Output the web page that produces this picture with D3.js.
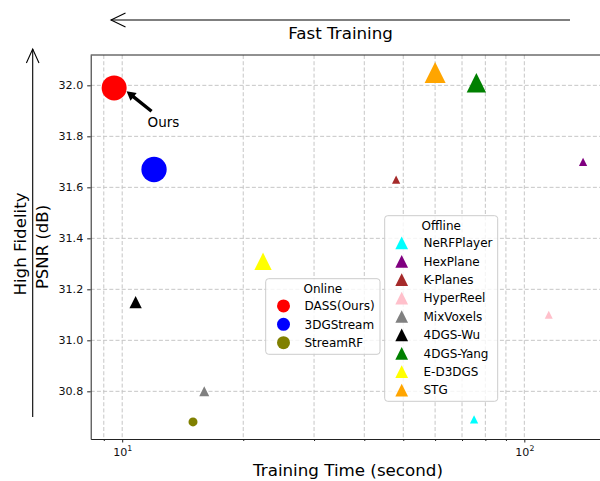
<!DOCTYPE html>
<html>
<head>
<meta charset="utf-8">
<script src="https://cdn.jsdelivr.net/npm/d3@7"></script>
<style>
  body { margin: 0; background: #fff; }
  svg { display: block; font-family: "DejaVu Sans", sans-serif; }
</style>
</head>
<body>
<script>
// Online methods (circles)
const onlineNames = ["DASS(Ours)", "3DGStream", "StreamRF"];
const onlineTime = [9.55, 12, 15];
const onlinePsnr = [31.99, 31.67, 30.68];
const onlineSize = [625, 640, 81];
const onlineColors = ["red", "blue", "olive"];

// Offline methods (triangles)
const offlineNames = ["NeRFPlayer", "HexPlane", "K-Planes", "HyperReel", "MixVoxels",
                      "4DGS-Wu", "4DGS-Yang", "E-D3DGS", "STG"];
const offlineTime = [75, 140, 48, 115, 16, 10.8, 76, 22.4, 60];
const offlinePsnr = [30.69, 31.70, 31.63, 31.10, 30.80, 31.15, 32.01, 31.31, 32.05];
const offlineSize = [69, 69, 69, 64, 100, 152, 376, 300, 441];
const offlineColors = ["cyan", "purple", "brown", "pink", "gray", "black", "green", "yellow", "orange"];

const yTicks = [30.8, 31.0, 31.2, 31.4, 31.6, 31.8, 32.0];
const xMajorTicks = [10, 100];

const width = 600, height = 481;
const mLeft = 90.7, mRight = 605.3, mTop = 55, mBottom = 439;

const svg = d3.select("body").append("svg")
    .attr("width", width)
    .attr("height", height);

const x = d3.scaleLog().domain([8.35, 159]).range([mLeft, mRight]);
const y = d3.scaleLinear().domain([30.613, 32.119]).range([mBottom, mTop]);
const sz = d3.scaleSqrt().domain([0, 625]).range([0, 25]);

function tri(cx, cy, h) {
    return `M${cx},${cy - h / 2}L${cx + h / 2},${cy + h / 2}L${cx - h / 2},${cy + h / 2}Z`;
}

// grid
const grid = svg.append("g")
    .attr("stroke", "#c6c6c6")
    .attr("stroke-width", 1)
    .attr("stroke-dasharray", "4,2.2");
grid.selectAll(".gx").data(x.ticks()).join("line")
    .attr("x1", d => x(d)).attr("x2", d => x(d))
    .attr("y1", mTop).attr("y2", mBottom);
grid.selectAll(".gy").data(yTicks).join("line")
    .attr("x1", mLeft).attr("x2", mRight)
    .attr("y1", d => y(d)).attr("y2", d => y(d));

// top spine
svg.append("line").attr("x1", mLeft).attr("x2", mRight).attr("y1", mTop).attr("y2", mTop)
    .attr("stroke", "#222").attr("stroke-width", 1);

// y axis
svg.append("g")
    .attr("transform", `translate(${mLeft},0)`)
    .call(d3.axisLeft(y).tickValues(yTicks).tickFormat(d3.format(".1f"))
        .tickSize(3.5).tickPadding(4).tickSizeOuter(0));

// x axis (major + minor)
const xMinor = svg.append("g")
    .attr("transform", `translate(0,${mBottom})`)
    .call(d3.axisBottom(x).tickValues(x.ticks().filter(d => !xMajorTicks.includes(d)))
        .tickFormat("").tickSize(2).tickSizeOuter(0));
xMinor.select(".domain").remove();

const xAxis = svg.append("g")
    .attr("transform", `translate(0,${mBottom})`)
    .call(d3.axisBottom(x).tickValues(xMajorTicks).tickSize(3.5).tickPadding(4).tickSizeOuter(0));
xAxis.selectAll(".tick text").each(function (d) {
    const t = d3.select(this).text(null).attr("dy", "0").attr("y", 17);
    t.append("tspan").text("10");
    t.append("tspan").attr("font-size", 7.8).attr("dy", -5).text(Math.round(Math.log10(d)));
});

svg.selectAll(".domain, .tick line").attr("stroke", "#222");
svg.selectAll(".tick text")
    .attr("font-family", "DejaVu Sans").attr("font-size", 11.1).attr("fill", "#111");

// offline triangles
svg.append("g").selectAll("path").data(offlineNames).join("path")
    .attr("d", (d, i) => tri(x(offlineTime[i]), y(offlinePsnr[i]), sz(offlineSize[i])))
    .attr("fill", (d, i) => offlineColors[i]);

// online circles
svg.append("g").selectAll("circle").data(onlineNames).join("circle")
    .attr("cx", (d, i) => x(onlineTime[i]))
    .attr("cy", (d, i) => y(onlinePsnr[i]))
    .attr("r", (d, i) => sz(onlineSize[i]) / 2)
    .attr("fill", (d, i) => onlineColors[i]);

// "Ours" annotation
const p = [x(onlineTime[0]), y(onlinePsnr[0])];
const tip = [p[0] + 12.4, p[1] + 3.4];
const tail = [tip[0] + 25, tip[1] + 20];
const len = Math.hypot(tail[0] - tip[0], tail[1] - tip[1]);
const u = [(tail[0] - tip[0]) / len, (tail[1] - tip[1]) / len];
const n = [-u[1], u[0]];
const hl = 9, hw = 5, sw = 1.7;
const arrowPts = [
    tip,
    [tip[0] + u[0] * hl + n[0] * hw, tip[1] + u[1] * hl + n[1] * hw],
    [tip[0] + u[0] * hl + n[0] * sw, tip[1] + u[1] * hl + n[1] * sw],
    [tail[0] + n[0] * sw, tail[1] + n[1] * sw],
    [tail[0] - n[0] * sw, tail[1] - n[1] * sw],
    [tip[0] + u[0] * hl - n[0] * sw, tip[1] + u[1] * hl - n[1] * sw],
    [tip[0] + u[0] * hl - n[0] * hw, tip[1] + u[1] * hl - n[1] * hw]
];
svg.append("path").attr("d", "M" + arrowPts.join("L") + "Z").attr("fill", "black");
svg.append("text").attr("x", tip[0] + 21).attr("y", tip[1] + 35.5)
    .attr("font-size", 13.5).text("Ours");

// legends
function legend(x0, y0, w, h, title, names, colors, shape) {
    const lg = svg.append("g");
    lg.append("rect").attr("x", x0).attr("y", y0).attr("width", w).attr("height", h)
        .attr("rx", 3).attr("fill", "white").attr("fill-opacity", 0.8)
        .attr("stroke", "#cccccc").attr("stroke-width", 1);
    lg.append("text").attr("x", x0 + w / 2).attr("y", y0 + 14)
        .attr("text-anchor", "middle").attr("font-size", 12).text(title);
    names.forEach((nm, i) => {
        const by = y0 + 31.5 + i * 18.4;
        const cy = by - 4.3;
        if (shape === "circle") {
            lg.append("circle").attr("cx", x0 + 17.8).attr("cy", cy).attr("r", 6.5).attr("fill", colors[i]);
        } else {
            lg.append("path").attr("d", tri(x0 + 17, cy, 12.7)).attr("fill", colors[i]);
        }
        lg.append("text").attr("x", x0 + 38.8).attr("y", by).attr("font-size", 12).text(nm);
    });
}
legend(265.7, 278.7, 114.3, 75.6, "Online", onlineNames, onlineColors, "circle");
legend(384.7, 215.7, 113, 185.6, "Offline", offlineNames, offlineColors, "tri");

// axis labels
svg.append("text").attr("x", (mLeft + mRight) / 2).attr("y", 475.5)
    .attr("text-anchor", "middle").attr("font-size", 16.7).text("Training Time (second)");
svg.append("text").attr("transform", `translate(48,${(mTop + mBottom) / 2}) rotate(-90)`)
    .attr("text-anchor", "middle").attr("font-size", 16.5).text("PSNR (dB)");
svg.append("text").attr("transform", "translate(25.5,244) rotate(-90)")
    .attr("text-anchor", "middle").attr("font-size", 16.7).text("High Fidelity");
svg.append("text").attr("x", 340.6).attr("y", 39)
    .attr("text-anchor", "middle").attr("font-size", 16.7).text("Fast Training");

// direction arrows
const arrows = svg.append("g").attr("stroke", "black").attr("stroke-width", 1.1).attr("fill", "none");
arrows.append("line").attr("x1", 570).attr("x2", 111).attr("y1", 20).attr("y2", 20);
arrows.append("polyline").attr("points", "125.5,13 111,20 125.5,27");
arrows.append("line").attr("x1", 32.7).attr("x2", 32.7).attr("y1", 417).attr("y2", 49);
arrows.append("polyline").attr("points", "26.4,63 32.7,49 39,63");
</script>
</body>
</html>
